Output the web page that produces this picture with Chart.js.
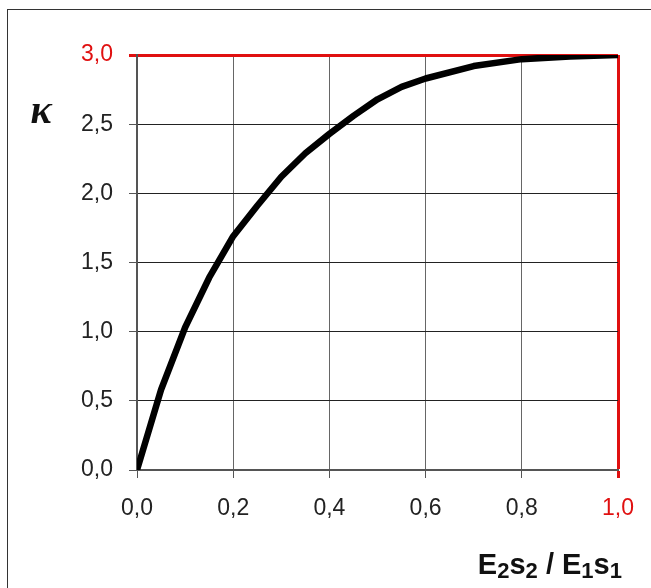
<!DOCTYPE html>
<html>
<head>
<meta charset="utf-8">
<script src="https://cdn.jsdelivr.net/npm/chart.js@4.4.1/dist/chart.umd.min.js"></script>
<style>
  html, body { margin: 0; padding: 0; background: #fff; }
  #wrap { position: relative; width: 651px; height: 588px; overflow: hidden; }
  #frame { position: absolute; left: 7px; top: 9px; width: 700px; height: 700px;
           border-left: 1px solid #333; border-top: 1px solid #333; }
  canvas { position: absolute; left: 0; top: 0; }
  #ytitle { position: absolute; left: 22px; top: 87px; width: 38px; text-align: center;
            font: italic bold 40px "Liberation Serif", "DejaVu Serif", serif; color: #111; line-height: 46px; }
  #xtitle { position: absolute; right: 29px; top: 547px; white-space: nowrap;
            font: bold 29px "Liberation Sans", Arial, sans-serif; color: #111; line-height: 34px; }
  #xtitle sub { font-size: 22px; vertical-align: -4px; line-height: 0; }
</style>
</head>
<body>
<div id="wrap">
  <div id="frame"></div>
  <canvas id="c" width="651" height="588"></canvas>
  <div id="ytitle">κ</div>
  <div id="xtitle">E<sub>2</sub>s<sub>2</sub> / E<sub>1</sub>s<sub>1</sub></div>
</div>
<script>
// stiffness ratio E2s2/E1s1 and the coefficient κ
const ratio = [0, 0.05, 0.10, 0.15, 0.20, 0.25, 0.30, 0.35, 0.40, 0.45, 0.50, 0.55, 0.60, 0.70, 0.80, 0.90, 1.00];
const kappa = [0, 0.58, 1.03, 1.39, 1.69, 1.91, 2.12, 2.29, 2.43, 2.56, 2.68, 2.77, 2.83, 2.92, 2.97, 2.99, 3.00];

// axis limits and tick steps
const xTicks = [0, 0.2, 0.4, 0.6, 0.8, 1.0];
const yTicks = [0, 0.5, 1.0, 1.5, 2.0, 2.5, 3.0];

const RED = '#e01010';
const fmt = v => Number(v).toFixed(1).replace('.', ',');

new Chart(document.getElementById('c'), {
  type: 'line',
  data: {
    datasets: [{
      data: ratio.map((x, i) => ({ x: x, y: kappa[i] })),
      borderColor: '#000',
      borderWidth: 6.5,
      pointRadius: 0,
      tension: 0,
      borderCapStyle: 'round',
      borderJoinStyle: 'round',
      fill: false
    }]
  },
  options: {
    responsive: false,
    animation: false,
    layout: { padding: { top: 55, right: 31, left: 0, bottom: 0 } },
    plugins: { legend: { display: false }, tooltip: { enabled: false } },
    scales: {
      x: {
        type: 'linear',
        min: xTicks[0],
        max: xTicks[xTicks.length - 1],
        afterBuildTicks: s => { s.ticks = xTicks.map(v => ({ value: v })); },
        afterFit: s => { s.height = 118; },
        border: { color: '#555', width: 2 },
        grid: {
          color: c => (c.tick && c.tick.value === 1 ? RED : '#666'),
          lineWidth: c => (c.tick && c.tick.value === 1 ? 3 : 1),
          tickColor: c => (c.tick && c.tick.value === 1 ? RED : '#555'),
          tickLength: 8,
          drawTicks: true
        },
        ticks: {
          padding: 17,
          color: c => (c.tick && c.tick.value === 1 ? RED : '#222'),
          font: { family: '"Liberation Sans", Arial, sans-serif', size: 23 },
          callback: v => fmt(v),
          maxRotation: 0
        }
      },
      y: {
        type: 'linear',
        min: yTicks[0],
        max: yTicks[yTicks.length - 1],
        afterBuildTicks: s => { s.ticks = yTicks.map(v => ({ value: v })); },
        afterFit: s => { s.width = 137; },
        border: { color: '#555', width: 2 },
        grid: {
          color: c => (c.tick && c.tick.value === 3 ? RED : '#222'),
          lineWidth: c => (c.tick && c.tick.value === 3 ? 3 : 1),
          tickColor: c => (c.tick && c.tick.value === 3 ? RED : '#555'),
          tickLength: 8,
          drawTicks: true
        },
        ticks: {
          padding: 16,
          color: c => (c.tick && c.tick.value === 3 ? RED : '#222'),
          font: { family: '"Liberation Sans", Arial, sans-serif', size: 23 },
          callback: v => fmt(v)
        }
      }
    }
  }
});
</script>
</body>
</html>
